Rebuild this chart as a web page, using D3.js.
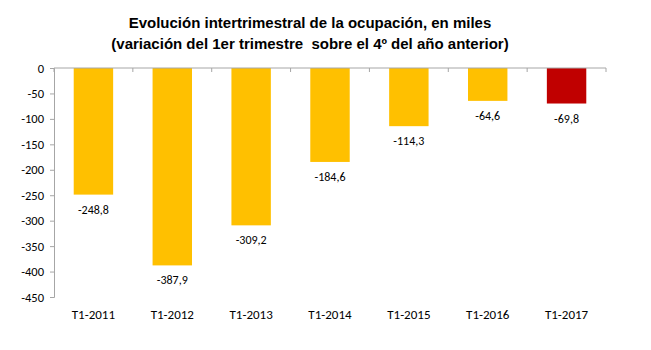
<!DOCTYPE html>
<html><head><meta charset="utf-8">
<script src="https://cdn.jsdelivr.net/npm/d3@7"></script>
<style>body{margin:0;background:#fff}svg{display:block}</style>
</head><body>
<svg id="c" width="651" height="350"></svg>
<script>
const categories = ["T1-2011","T1-2012","T1-2013","T1-2014","T1-2015","T1-2016","T1-2017"];
const values = [-248.8,-387.9,-309.2,-184.6,-114.3,-64.6,-69.8];
const barColors = ["#FFC000","#FFC000","#FFC000","#FFC000","#FFC000","#FFC000","#C00000"];
const yTicks = [0,-50,-100,-150,-200,-250,-300,-350,-400,-450];
const titleLines = ["Evolución intertrimestral de la ocupación, en miles","(variación del 1er trimestre  sobre el 4º del año anterior)"];

(function(){
const svg = d3.select("#c");
const mLeft = 54, mRight = 606, mTop = 68, mBottom = 297;
const x = d3.scaleBand().domain(categories).range([mLeft, mRight]).paddingInner(0.5).paddingOuter(0.25);
const y = d3.scaleLinear().domain([0,-450]).range([mTop,mBottom]);
const fmt = v => d3.format(".1f")(v).replace(".", ",").replace("\u2212","-");
const font = "Carlito, Liberation Sans, Arial, sans-serif";

svg.selectAll("text.title").data(titleLines).join("text")
  .attr("x", 310).attr("y", (d,i)=>28+i*21)
  .attr("text-anchor","middle").attr("font-family","Liberation Sans, Arial, sans-serif")
  .attr("xml:space","preserve").style("white-space","pre")
  .attr("font-weight","bold").attr("font-size",15).attr("fill","#000").text(d=>d);

svg.selectAll("rect.bar").data(values).join("rect")
  .attr("x",(d,i)=>x(categories[i])).attr("width",x.bandwidth())
  .attr("y",y(0)).attr("height",d=>y(d)-y(0)).attr("fill",(d,i)=>barColors[i]);

const yAxis = svg.append("g").attr("transform",`translate(${mLeft},0)`)
  .call(d3.axisLeft(y).tickValues(yTicks).tickSize(4).tickPadding(6).tickFormat(d=>String(d)));
yAxis.select(".domain").attr("stroke","#a6a6a6");
yAxis.selectAll(".tick line").attr("stroke","#a6a6a6");
yAxis.selectAll("text").attr("font-family",font).attr("font-size",12.5).attr("fill","#000");

const bounds = d3.range(categories.length+1).map(i=>mLeft + i*(mRight-mLeft)/categories.length);
svg.append("line").attr("x1",mLeft).attr("x2",mRight).attr("y1",y(0)).attr("y2",y(0)).attr("stroke","#a6a6a6");
svg.selectAll("line.xt").data(bounds).join("line")
  .attr("x1",d=>d).attr("x2",d=>d).attr("y1",y(0)).attr("y2",y(0)+4).attr("stroke","#a6a6a6");

svg.selectAll("text.cat").data(categories).join("text")
  .attr("x",d=>x(d)+x.bandwidth()/2).attr("y",319).attr("text-anchor","middle")
  .attr("font-family",font).attr("font-size",13).attr("fill","#000").text(d=>d);

svg.selectAll("text.val").data(values).join("text")
  .attr("x",(d,i)=>x(categories[i])+x.bandwidth()/2).attr("y",d=>y(d)+19).attr("text-anchor","middle")
  .attr("font-family",font).attr("font-size",12).attr("fill","#000").text(d=>fmt(d));
})();
</script>
</body></html>
